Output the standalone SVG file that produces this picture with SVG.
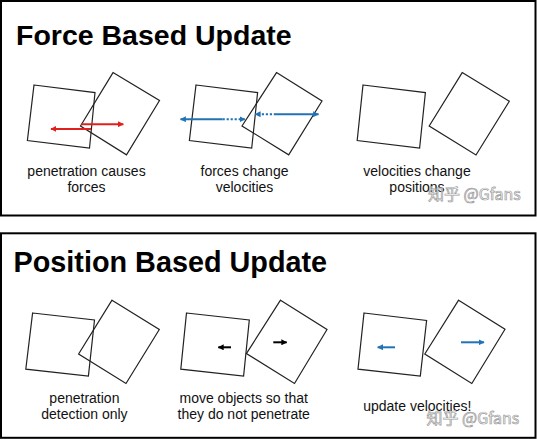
<svg xmlns="http://www.w3.org/2000/svg" width="537" height="440" viewBox="0 0 537 440">
<style>
.frame{fill:none;stroke:#000;stroke-width:2}
.title{font-family:"Liberation Sans",Arial,sans-serif;font-weight:bold;font-size:28.5px;fill:#000}
.box{fill:none;stroke:#222;stroke-width:1.2;stroke-linejoin:miter}
.lbl{font-family:"Liberation Sans",Arial,sans-serif;font-size:14px;fill:#111;text-anchor:middle}
.red{stroke:#e0201c;stroke-width:2;fill:none}
.blue{stroke:#2273b5;stroke-width:2;fill:none}
.bdot{stroke:#2273b5;stroke-width:2;fill:none;stroke-dasharray:2.2 1.8}
.blk{stroke:#000;stroke-width:2;fill:none}
.wm{font-family:"Noto Sans CJK SC","Noto Sans",sans-serif;font-size:16px;fill:#fff;fill-opacity:0.85;stroke:#9a9a9a;stroke-width:0.7}
</style>
<defs>
<marker id="hr" viewBox="0 0 10 10" refX="9" refY="5" markerWidth="6" markerHeight="6" markerUnits="userSpaceOnUse" orient="auto-start-reverse"><path d="M0,0 L10,5 L0,10 z" fill="#e0201c"/></marker>
<marker id="hb" viewBox="0 0 10 10" refX="9" refY="5" markerWidth="6" markerHeight="6" markerUnits="userSpaceOnUse" orient="auto-start-reverse"><path d="M0,0 L10,5 L0,10 z" fill="#2273b5"/></marker>
<marker id="hk" viewBox="0 0 10 10" refX="9" refY="5" markerWidth="6" markerHeight="6" markerUnits="userSpaceOnUse" orient="auto-start-reverse"><path d="M0,0 L10,5 L0,10 z" fill="#000"/></marker>
</defs>
<rect width="537" height="440" fill="#fff"/>

<g id="panel-force">
<rect class="frame" x="1" y="1" width="534.5" height="214.5"/>
<text class="title" x="16" y="45">Force Based Update</text>
</g>

<g id="force-step1">
<polygon class="box" points="34,85 95,92.6 89.5,148.2 27.4,140.5"/>
<polygon class="box" points="113,72.6 159.5,100.5 126.5,154.8 80.5,126"/>
<text class="lbl" x="86.5" y="175.5">penetration causes</text>
<text class="lbl" x="86.5" y="192">forces</text>
</g>

<g id="force-step2">
<polygon class="box" points="196,85 257.6,92.6 251.7,148.2 189.4,140.5"/>
<polygon class="box" points="276.5,72.6 322,101 288.7,154.8 242,126"/>
<text class="lbl" x="244.5" y="175.5">forces change</text>
<text class="lbl" x="244.5" y="192">velocities</text>
</g>

<g id="force-step3">
<polygon class="box" points="363,85 425.4,92.6 419.6,148.2 357.2,140.5"/>
<polygon class="box" points="462.2,72.6 509.3,101.3 476,155 429.2,126"/>
<text class="lbl" x="417" y="175.5">velocities change</text>
<text class="lbl" x="417" y="192">positions</text>
</g>

<g id="panel-position">
<rect class="frame" x="1" y="233.3" width="534.5" height="204.5"/>
<text class="title" x="13.5" y="271.5" style="font-size:28.8px">Position Based Update</text>
</g>

<g id="position-step1">
<polygon class="box" points="32.6,313 94.5,320 88.4,376 25.8,369.2"/>
<polygon class="box" points="112,300.2 159.3,329.5 126,383.5 78.6,354"/>
<text class="lbl" x="84.4" y="402.5">penetration</text>
<text class="lbl" x="84.4" y="418.8">detection only</text>
</g>

<g id="position-step2">
<polygon class="box" points="186.5,313 249.3,320 243.6,376 180.8,369.2"/>
<polygon class="box" points="280.5,300.2 327,329.5 294.5,383.5 246.4,353.6"/>
<text class="lbl" x="243.7" y="402.5">move objects so that</text>
<text class="lbl" x="243.7" y="418.8">they do not penetrate</text>
</g>

<g id="position-step3">
<polygon class="box" points="364,313 426.6,320.5 420.3,376 358,369.2"/>
<polygon class="box" points="458.6,300.2 505,329.3 471.8,383.5 424.8,354"/>
<text class="lbl" x="417.3" y="410.8">update velocities!</text>
</g>

<g id="connectors">
<line class="red" x1="91" y1="128.9" x2="51" y2="128.9" marker-end="url(#hr)"/>
<line class="red" x1="81.2" y1="124.2" x2="123.3" y2="124.2" marker-end="url(#hr)"/>
<line class="blue" x1="222.6" y1="119.2" x2="180.5" y2="119.2" marker-end="url(#hb)"/>
<line class="bdot" x1="222.6" y1="119.2" x2="244.9" y2="119.2" marker-end="url(#hb)"/>
<line class="bdot" x1="276" y1="114.2" x2="255.2" y2="114.2" marker-end="url(#hb)"/>
<line class="blue" x1="276" y1="114.2" x2="318.5" y2="114.2" marker-end="url(#hb)"/>
<line class="blk" x1="231" y1="347.3" x2="218.3" y2="347.3" marker-end="url(#hk)"/>
<line class="blk" x1="273.3" y1="342.3" x2="286.7" y2="342.3" marker-end="url(#hk)"/>
<line class="blue" x1="395" y1="347.3" x2="377.7" y2="347.3" marker-end="url(#hb)"/>
<line class="blue" x1="461" y1="342.3" x2="484" y2="342.3" marker-end="url(#hb)"/>
</g>

<g id="watermarks">
<text class="wm" x="428" y="200">知乎 @Gfans</text>
<text class="wm" x="426.5" y="423.5">知乎 @Gfans</text>
</g>
</svg>
